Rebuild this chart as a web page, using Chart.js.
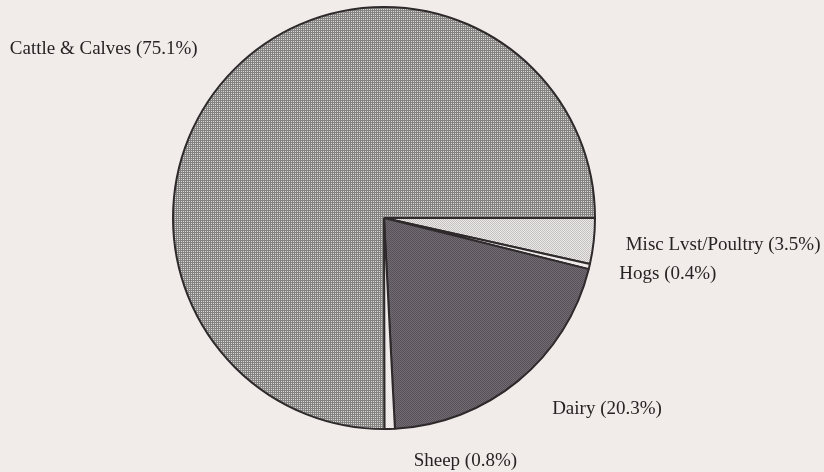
<!DOCTYPE html>
<html>
<head>
<meta charset="utf-8">
<script src="https://cdn.jsdelivr.net/npm/chart.js@4.4.1/dist/chart.umd.min.js"></script>
<style>
  html, body { margin: 0; padding: 0; background: #f1ecea; }
  #wrap { width: 824px; height: 472px; position: relative; }
</style>
</head>
<body>
<div id="wrap"><canvas id="pie" width="824" height="472"></canvas></div>
<script>
// 数据：顺时针，从 3 点钟方向开始
const categories = ['Misc Lvst/Poultry', 'Hogs', 'Dairy', 'Sheep', 'Cattle & Calves'];
const shares = [3.5, 0.4, 20.3, 0.8, 75.1];

// 标签相对扇区外缘中点的偏移（样式，不是数据）
const labelOffsets = [
  { dx: 32, dy: 4, align: 'left' },
  { dx: 30, dy: 7, align: 'left' },
  { dx: 34, dy: 28, align: 'left' },
  { dx: 24, dy: 32, align: 'left' },
  { dx: -37, dy: -20, align: 'right' }
];

// 小块像素纹理，模拟印刷网点
const makePattern = (pixels, size) => {
  const c = document.createElement('canvas');
  c.width = size; c.height = size;
  const g = c.getContext('2d');
  pixels.forEach((col, i) => {
    g.fillStyle = col;
    g.fillRect(i % size, Math.floor(i / size), 1, 1);
  });
  return g.createPattern(c, 'repeat');
};

const ctx = document.getElementById('pie').getContext('2d');
const fills = [
  makePattern(['#c4c1c1', '#ece8e8', '#ece8e8', '#c4c1c1'], 2),
  makePattern(['#e6e2e2', '#f6f2f2', '#f6f2f2', '#e6e2e2'], 2),
  makePattern(['#57525a', '#726c72', '#726c72', '#57525a'], 2),
  makePattern(['#e6e2e2', '#f6f2f2', '#f6f2f2', '#e6e2e2'], 2),
  makePattern(['#858282', '#858282', '#858282', '#dad6d6'], 2)
];

const labelPlugin = {
  id: 'sliceLabels',
  afterDatasetsDraw(chart) {
    const c = chart.ctx;
    const meta = chart.getDatasetMeta(0);
    c.save();
    c.font = '19px "Liberation Serif", "Times New Roman", serif';
    c.fillStyle = '#262324';
    c.textBaseline = 'middle';
    meta.data.forEach((arc, i) => {
      const mid = (arc.startAngle + arc.endAngle) / 2;
      const x = arc.x + Math.cos(mid) * arc.outerRadius;
      const y = arc.y + Math.sin(mid) * arc.outerRadius;
      const o = labelOffsets[i];
      c.textAlign = o.align;
      c.fillText(`${categories[i]} (${shares[i]}%)`, x + o.dx, y + o.dy);
    });
    c.restore();
  }
};

new Chart(ctx, {
  type: 'pie',
  data: {
    labels: categories,
    datasets: [{
      data: shares,
      backgroundColor: fills,
      borderColor: '#2e2a2c',
      borderWidth: 2
    }]
  },
  options: {
    responsive: false,
    animation: false,
    rotation: 90,
    layout: { padding: { top: 6, bottom: 42, left: 0, right: 56 } },
    plugins: {
      legend: { display: false },
      tooltip: { enabled: false }
    }
  },
  plugins: [labelPlugin]
});
</script>
</body>
</html>
